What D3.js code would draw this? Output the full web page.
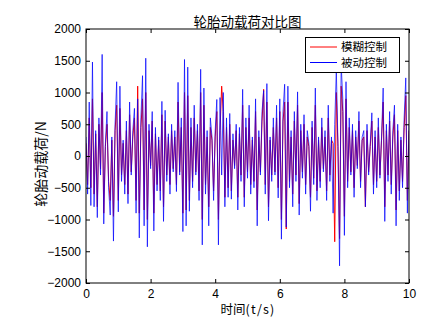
<!DOCTYPE html>
<html><head><meta charset="utf-8">
<script src="https://cdn.jsdelivr.net/npm/d3@7/dist/d3.min.js"></script>
<style>body{margin:0;background:#fff}svg{display:block}</style>
</head><body>
<svg id="c" width="448" height="324"></svg>
<script>
const title = "轮胎动载荷对比图";
const xLabelMain = "时间";
const xLabelUnit = "(t/s)";
const yLabel = "轮胎动载荷/N";
const seriesNames = ["模糊控制", "被动控制"];
const xTicks = [0, 2, 4, 6, 8, 10];
const yTicks = [-2000, -1500, -1000, -500, 0, 500, 1000, 1500, 2000];
const dt = 0.05;
const fuzzy = [
 200,-450,600,-500,900,-600,350,-800,500,-200,
 1000,-900,150,500,-400,-700,250,-950,400,800,
 -700,750,-300,200,-450,400,-600,650,-250,300,
 600,-700,1100,-900,450,900,-850,1000,-1000,400,
 -150,550,-900,350,-450,250,-550,650,-800,550,
 -300,300,-450,400,-200,300,-450,850,-250,450,
 -900,1000,-850,950,-700,450,-400,600,-250,400,
 -550,1000,-1000,800,-450,300,-800,450,250,-550,
 300,700,-1000,400,1100,700,-650,450,-500,500,
 -550,250,-150,400,-650,350,-300,800,-650,450,
 -250,600,-450,250,-400,700,-850,300,-250,550,
 1050,-450,850,-800,250,-300,450,-250,600,-500,
 700,-1000,550,850,-1150,850,-400,300,-600,550,
 -300,800,-750,400,-250,500,-450,300,150,-650,
 450,-350,800,-550,250,-400,450,-200,300,-550,
 600,-300,250,200,-1350,1000,150,-1300,1100,700,
 -950,900,-400,450,-250,400,-500,300,-150,550,
 -400,250,300,-800,400,-250,150,550,-450,300,
 -400,450,-300,250,850,-800,400,-300,550,-450,
 300,650,-850,400,-550,250,-400,450,950,-700,
 400];
const passive = [
 300,-600,850,-780,1480,-800,400,-970,600,-300,
 1600,-1070,200,700,-500,-930,300,-1340,500,1170,
 -880,1100,-400,250,-600,550,-750,850,-300,400,
 750,-900,900,-1290,600,1265,-1100,1540,-1430,500,
 -200,700,-1180,450,-550,300,-700,860,-1030,720,
 -400,350,-600,500,-250,400,-560,1160,-300,600,
 -1190,1520,-1100,1400,-870,600,-500,800,-300,500,
 -700,1365,-1400,1070,-600,400,-1100,600,300,-700,
 400,890,-1400,920,-300,1000,-800,600,-650,670,
 -680,350,-200,500,-850,450,-400,1050,-800,600,
 -350,800,-600,300,-500,900,-1100,400,-300,700,
 1030,-600,1140,-1020,300,-400,600,-300,800,-660,
 900,-1310,700,1130,-1120,1100,-500,400,-800,700,
 -400,1010,-930,500,-350,650,-600,400,200,-870,
 550,-450,1070,-700,300,-500,600,-250,400,-700,
 800,-400,300,-900,500,1350,200,-1730,1450,900,
 -1250,1170,-500,600,-300,500,-650,400,-200,700,
 -500,300,400,-800,500,-300,200,680,-600,400,
 -500,600,-350,300,1070,-1030,500,-400,700,-600,
 400,800,-1100,500,-700,300,-500,600,1230,-900,
 500];

const svg = d3.select("#c");
const L = 86, R = 409, T = 29, B = 283;
const x = d3.scaleLinear().domain([0, 10]).range([L, R]);
const y = d3.scaleLinear().domain([-2000, 2000]).range([B, T]);
const tick = "Liberation Sans, Arial, sans-serif";
const cjk = "'Noto Sans CJK SC', sans-serif";

svg.append("rect").attr("x", 0).attr("y", 0).attr("width", 448).attr("height", 324).attr("fill", "#fff");

svg.append("clipPath").attr("id", "pc").append("rect")
  .attr("x", L).attr("y", T).attr("width", R - L).attr("height", B - T);

const line = d3.line().x((d, i) => x(i * dt)).y(d => y(d));
const g = svg.append("g").attr("clip-path", "url(#pc)");
g.append("path").datum(fuzzy).attr("d", line).attr("fill", "none")
  .attr("stroke", "#ff0000").attr("stroke-width", 1);
g.append("path").datum(passive).attr("d", line).attr("fill", "none")
  .attr("stroke", "#0000ff").attr("stroke-width", 1).attr("stroke-opacity", 0.7);

const fmt = d3.format("d");
function style(sel, labels) {
  sel.select(".domain").remove();
  sel.selectAll(".tick line").attr("stroke", "#000");
  sel.selectAll("text").attr("font-family", tick).attr("font-size", 12).attr("fill", "#000");
  if (!labels) sel.selectAll("text").remove();
}
svg.append("g").attr("transform", `translate(0,${B})`)
  .call(d3.axisBottom(x).tickValues(xTicks).tickFormat(fmt).tickSize(-4).tickPadding(6)).call(s => style(s, true));
svg.append("g").attr("transform", `translate(0,${T})`)
  .call(d3.axisTop(x).tickValues(xTicks).tickSize(-4)).call(s => style(s, false));
svg.append("g").attr("transform", `translate(${L},0)`)
  .call(d3.axisLeft(y).tickValues(yTicks).tickFormat(fmt).tickSize(-4).tickPadding(5)).call(s => style(s, true));
svg.append("g").attr("transform", `translate(${R},0)`)
  .call(d3.axisRight(y).tickValues(yTicks).tickSize(-4)).call(s => style(s, false));

svg.append("rect").attr("x", L).attr("y", T).attr("width", R - L).attr("height", B - T)
  .attr("fill", "none").attr("stroke", "#000").attr("stroke-width", 1);

svg.append("text").attr("x", (L + R) / 2).attr("y", 27).attr("text-anchor", "middle")
  .attr("font-family", cjk).attr("font-size", 13.5).text(title);
const xl = svg.append("text").attr("x", 248).attr("y", 314).attr("text-anchor", "middle")
  .attr("font-family", cjk).attr("font-size", 12.5);
xl.append("tspan").text(xLabelMain);
xl.append("tspan").attr("letter-spacing", 1.2).text(xLabelUnit);
svg.append("text").attr("transform", "translate(46,164) rotate(-90)").attr("text-anchor", "middle")
  .attr("font-family", cjk).attr("font-size", 14).text(yLabel);

// legend
const lg = svg.append("g");
lg.append("rect").attr("x", 305.5).attr("y", 37.5).attr("width", 94).attr("height", 35)
  .attr("fill", "#fff").attr("stroke", "#000").attr("stroke-width", 1);
const colors = ["#ff0000", "#0000ff"];
seriesNames.forEach((n, i) => {
  const yy = 47 + i * 15.5;
  lg.append("line").attr("x1", 310).attr("x2", 337).attr("y1", yy).attr("y2", yy)
    .attr("stroke", colors[i]).attr("stroke-width", 1);
  lg.append("text").attr("x", 341).attr("y", yy + 4).attr("font-family", cjk)
    .attr("font-size", 11.5).text(n);
});
</script>
</body></html>
